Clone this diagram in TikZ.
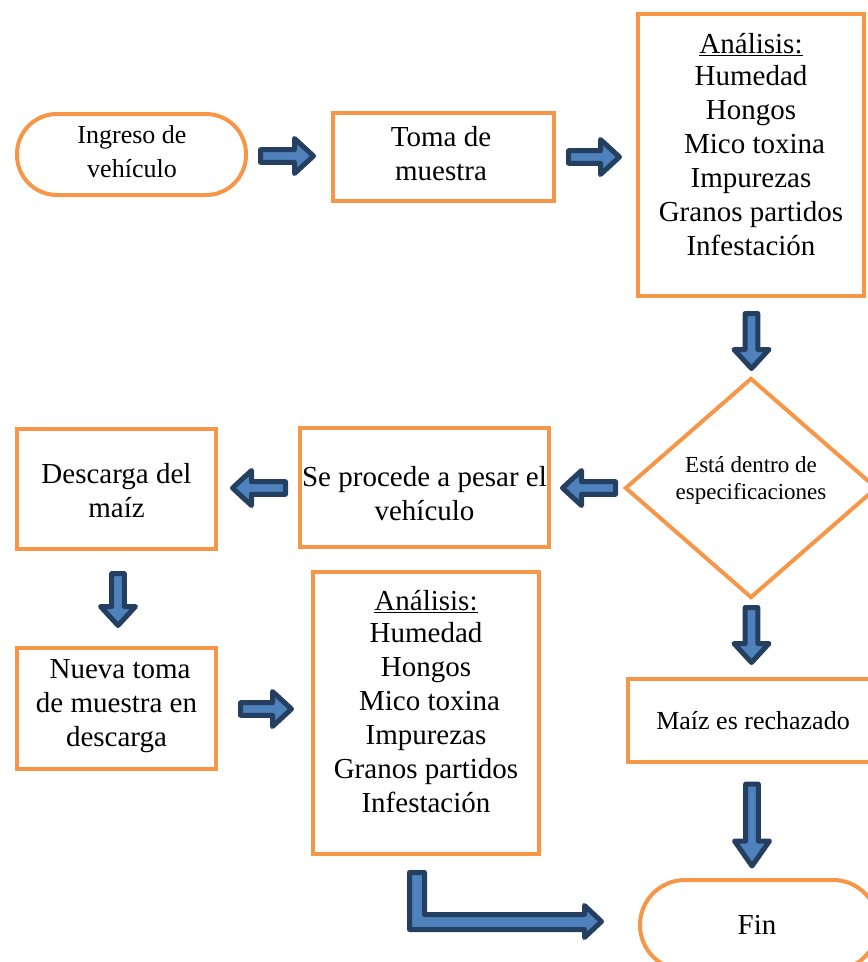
\documentclass[tikz,border=0pt]{standalone}
\usepackage{fontspec}
\setmainfont{Liberation Serif}
\usetikzlibrary{shapes.geometric}
\definecolor{orng}{HTML}{F79646}
\definecolor{abfill}{HTML}{4F81BD}
\definecolor{abline}{HTML}{243F60}
\tikzset{
  box/.style={draw=orng, line width=4pt, rectangle, inner sep=0pt, align=center,
    font=\fontsize{29}{34}\selectfont},
  term/.style={box, rounded corners=#1},
  txt/.style={inner sep=0pt, align=center, font=\fontsize{29}{34}\selectfont},
  blockarrow/.style={fill=abfill, draw=abline, line width=5pt, line join=round}
}
% #1,#2 outer tail centre, #3 angle, #4 outer length, #5 head length
\newcommand\barrow[5]{%
  \draw[blockarrow, shift={(#1,#2)}, rotate=#3]
    (2.5,-6.3) -- ({#4-2.5-#5},-6.3) -- ({#4-2.5-#5},-17.5) -- ({#4-2.5},0)
    -- ({#4-2.5-#5},17.5) -- ({#4-2.5-#5},6.3) -- (2.5,6.3) -- cycle;}
\begin{document}
\begin{tikzpicture}[x=1pt, y=-1pt]
\useasboundingbox (0,0) rectangle (868,962);
\clip (0,0) rectangle (868,962);
\fill[white] (0,0) rectangle (868,962);

% nodes
\node[term=40pt, minimum width=229pt, minimum height=81pt] (ing) at (131.5,154.5) {};
\node[txt, font=\fontsize{26}{34}\selectfont] (ingt) at (132,152) {Ingreso de\\vehículo};
\node[box, minimum width=221pt, minimum height=88pt] (toma) at (443.5,157) {};
\node[txt] (tomat) at (441,154) {Toma de\\muestra};
\node[box, minimum width=226pt, minimum height=282pt] (an1) at (751,155) {};
\node[txt, anchor=north] (an1t) at (751,33) {\underline{Análisis:}\\[-2pt]Humedad\\Hongos\\\ Mico toxina\\Impurezas\\Granos partidos\\Infestación};
\node[draw=orng, line width=4pt, diamond, inner sep=0pt, minimum width=252pt, minimum height=220pt] (dec) at (751,488) {};
\node[txt, font=\fontsize{23}{27}\selectfont] (dect) at (751,480) {Está dentro de\\especificaciones};
\node[box, minimum width=249pt, minimum height=119pt] (pesar) at (424.5,487.5) {};
\node[txt] (pesart) at (424.5,494) {Se procede a pesar el\\vehículo};
\node[box, minimum width=199pt, minimum height=120pt] (desc) at (116.5,489) {};
\node[txt] (desct) at (116.5,491) {Descarga del\\maíz};
\node[box, minimum width=199pt, minimum height=121pt] (nueva) at (116.5,708.5) {};
\node[txt] (nuevat) at (116.5,706) {\ Nueva toma\\de muestra en\\descarga};
\node[box, minimum width=226pt, minimum height=282pt] (an2) at (426,713) {};
\node[txt, anchor=north] (an2t) at (426,590) {\underline{Análisis:}\\[-2pt]Humedad\\Hongos\\\ Mico toxina\\Impurezas\\Granos partidos\\Infestación};
\node[box, minimum width=250pt, minimum height=83pt, font=\fontsize{26}{34}\selectfont] (rech) at (753,720.5) {Maíz es rechazado};
\node[term=45pt, minimum width=238pt, minimum height=90pt] (fin) at (759,925) {};
\node[txt] (fint) at (757,925) {Fin};

% block arrows
\barrow{258}{156}{0}{58}{19}
\barrow{566}{157}{0}{56}{19}
\barrow{751.5}{311}{-90}{60}{19}
\barrow{618}{488}{180}{58}{19}
\barrow{288}{488}{180}{58}{19}
\barrow{118}{571}{-90}{57}{19}
\barrow{238}{709}{0}{56}{19}
\barrow{751.5}{605}{-90}{60}{19}
\barrow{752}{781.5}{-90}{87}{25}

% L-shaped arrow
\draw[blockarrow] (409.5,872.5) -- (424.5,872.5) -- (424.5,914.5) -- (584.5,914.5) -- (584.5,905.5)
  -- (601.5,921.5) -- (584.5,937.5) -- (584.5,929.5) -- (409.5,929.5) -- cycle;
\end{tikzpicture}
\end{document}
